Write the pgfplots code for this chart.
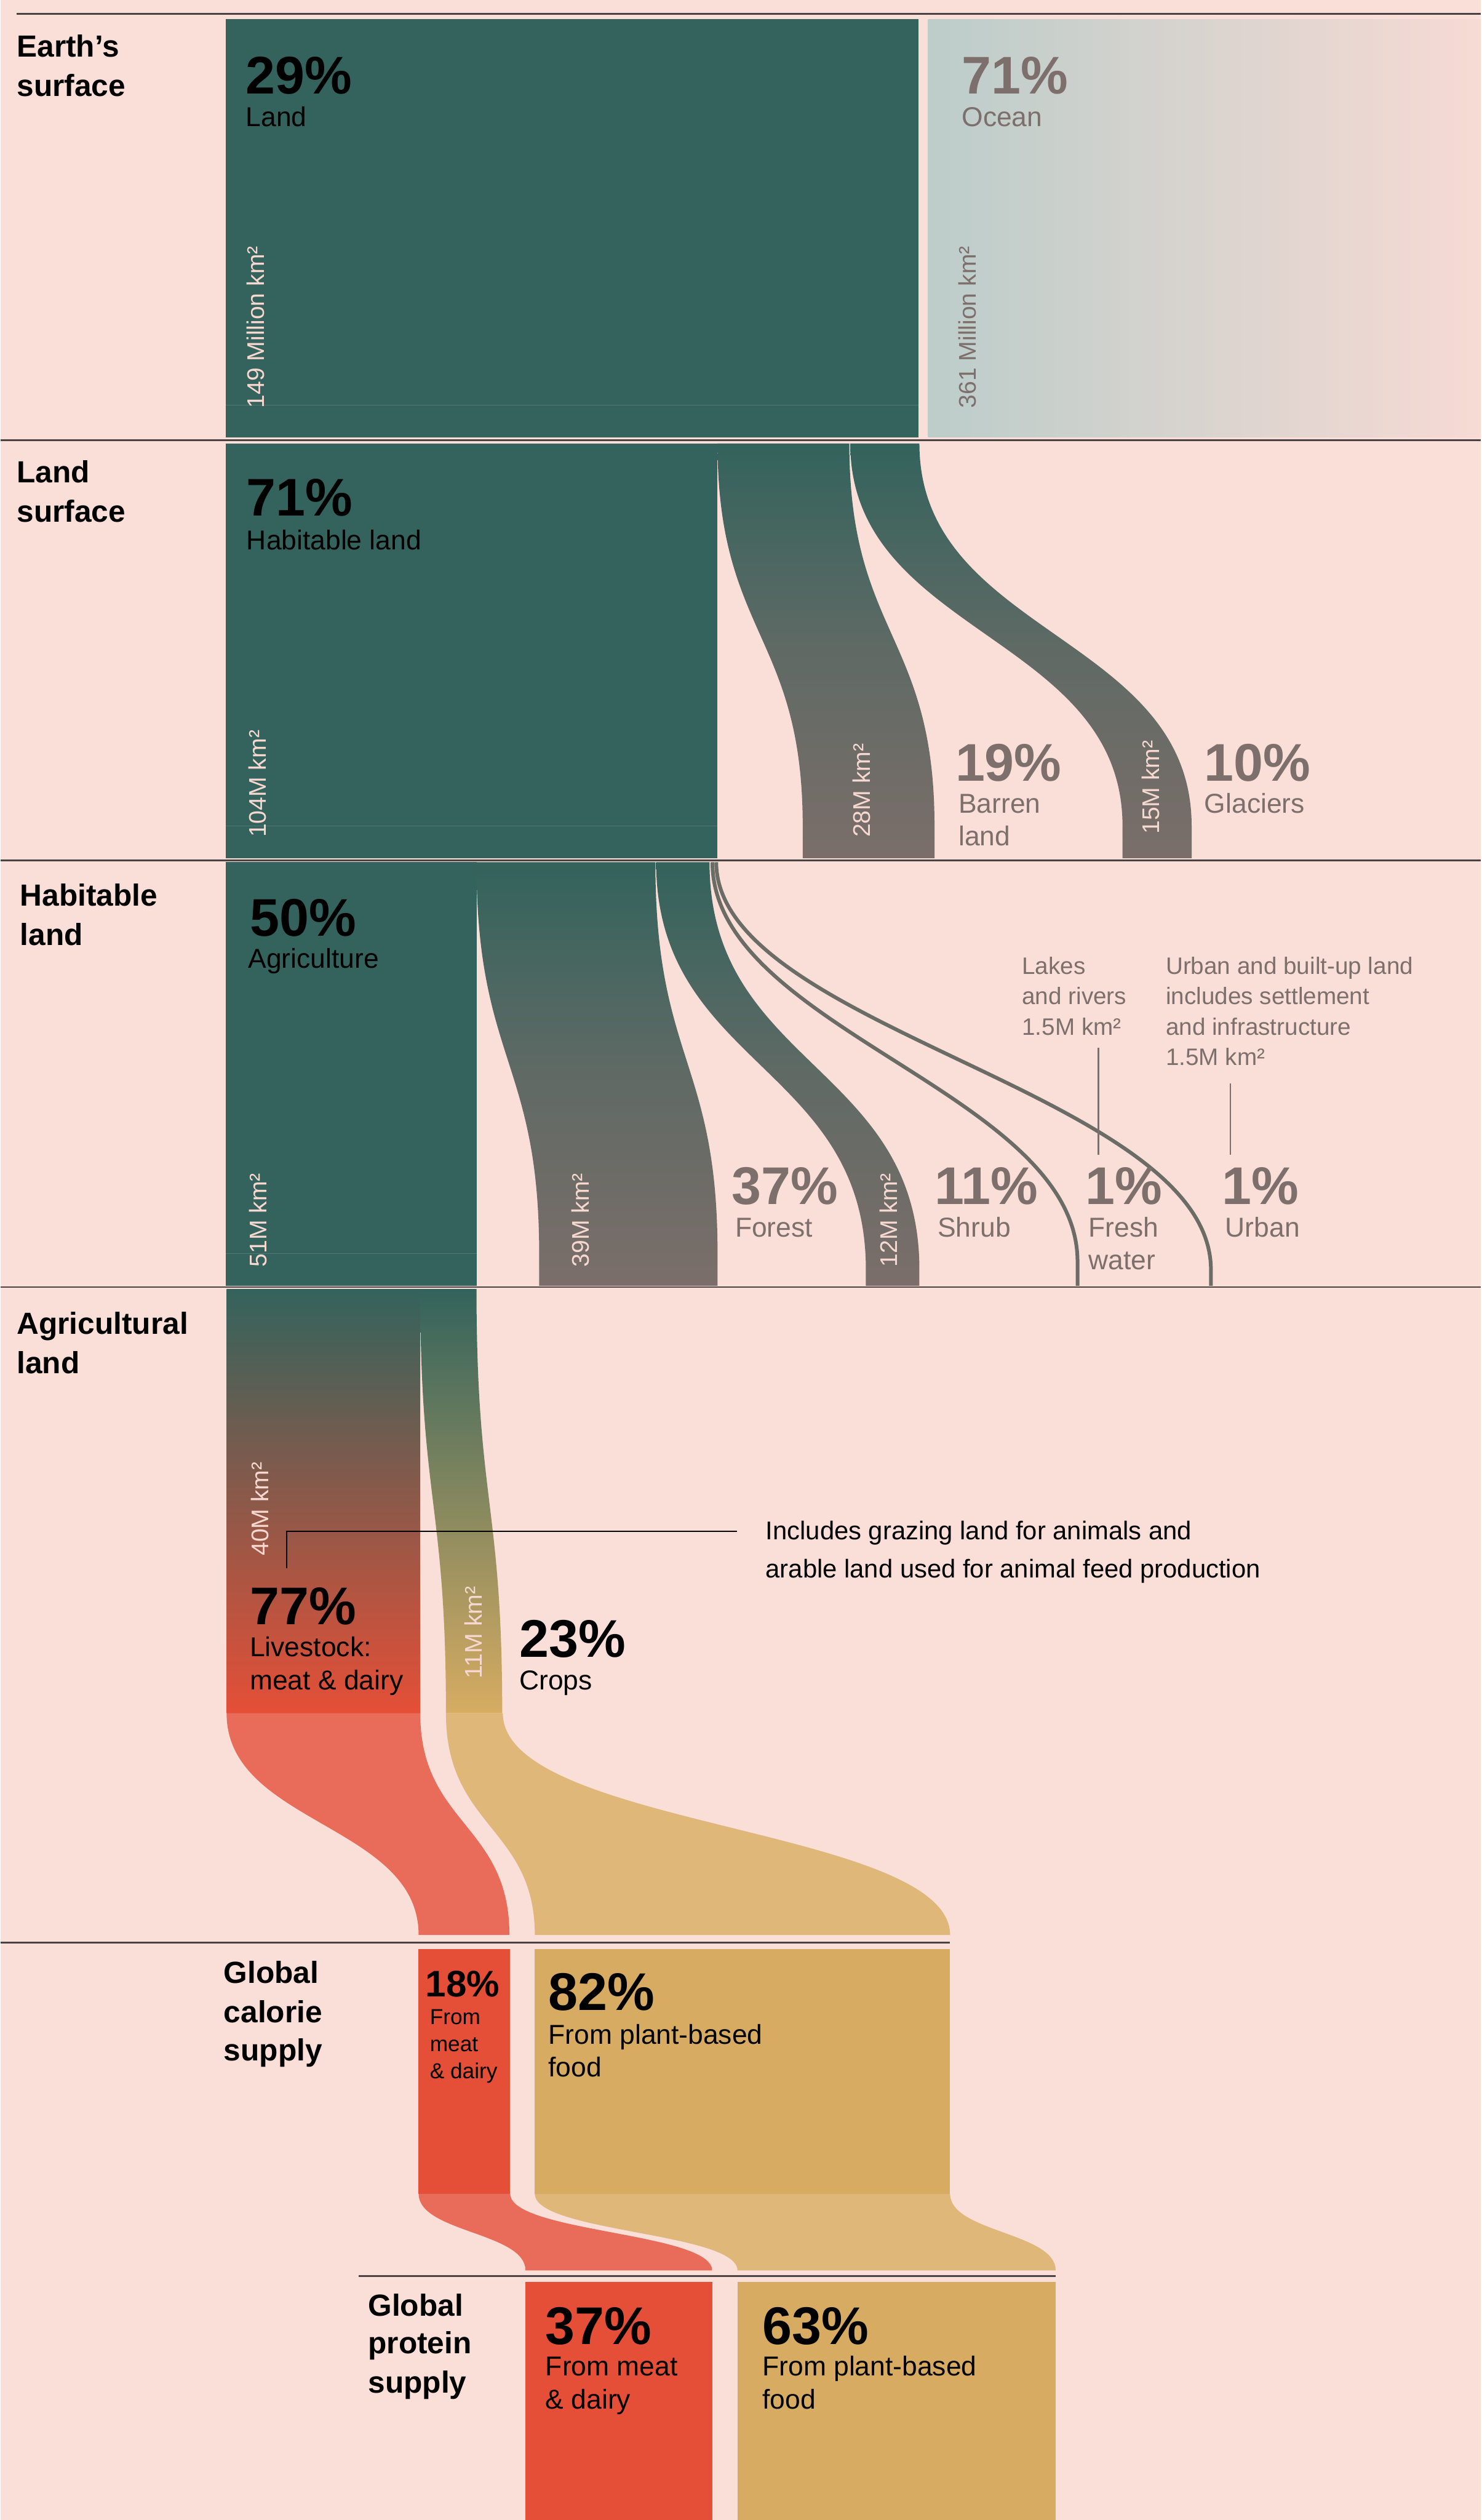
\documentclass[border=0pt]{standalone}
\usepackage{pgfplots}
\pgfplotsset{compat=1.18}
\usepackage{fontspec}
\setmainfont{Liberation Sans}

\definecolor{bg}{HTML}{FADED8}
\definecolor{dgreen}{HTML}{33635C}
\definecolor{taupe}{HTML}{7B6E6A}
\definecolor{red1}{HTML}{E54F37}
\definecolor{red2}{HTML}{E96B59}
\definecolor{gold1}{HTML}{D7AC62}
\definecolor{gold2}{HTML}{DEB779}
\definecolor{oceanL}{HTML}{BCCDCA}
\definecolor{oceanR}{HTML}{F7DAD4}
\definecolor{linec}{HTML}{4A4242}
\definecolor{lbl}{HTML}{F6D8D1}
\definecolor{gtext}{HTML}{7D6F6B}
\definecolor{faint}{HTML}{4E7A73}
\definecolor{thinl}{HTML}{6C6C67}

\newcommand\fsec{\fontsize{19}{22}\selectfont\bfseries}
\newcommand\fpct{\fontsize{33}{36}\selectfont\bfseries}
\newcommand\fpcts{\fontsize{23}{26}\selectfont\bfseries}
\newcommand\fsub{\fontsize{17}{20}\selectfont}
\newcommand\fsubs{\fontsize{13.5}{16}\selectfont}
\newcommand\frot{\fontsize{15}{18}\selectfont}
\newcommand\fann{\fontsize{14.8}{18}\selectfont}
\newcommand\fannb{\fontsize{16}{19}\selectfont}

\tikzset{
  flowshade/.style={draw=none, top color=dgreen, bottom color=taupe, middle color=taupe!62!dgreen},
  cropshade/.style={draw=none, top color=dgreen, bottom color=gold1},
}

% #1 opts, #2 x0l, #3 x0r, #4 y0, #5 x1l, #6 x1r, #7 control y, #8 end of curve, #9 bottom
\newcommand{\flow}[9]{\path[#1] (axis cs:#2,#4) .. controls (axis cs:#2,#7) and (axis cs:#5,#7) .. (axis cs:#5,#8) -- (axis cs:#5,#9) -- (axis cs:#6,#9) -- (axis cs:#6,#8) .. controls (axis cs:#6,#7) and (axis cs:#3,#7) .. (axis cs:#3,#4) -- cycle;}

\begin{document}
\begin{tikzpicture}[every node/.append style={inner sep=0pt, outer sep=0pt}]
\begin{axis}[width=921pt, height=1568pt, scale only axis,
  xmin=0, xmax=921, ymin=0, ymax=1568, y dir=reverse,
  hide axis, clip=false]

% background
\addplot[fill=bg, draw=none] coordinates {(0,0)(921,0)(921,1568)(0,1568)} -- cycle;

% ---- Section 1: Earth's surface
\addplot[fill=dgreen, draw=none] coordinates {(140,12)(571,12)(571,272)(140,272)} -- cycle;
\addplot[draw=none, left color=oceanL, right color=oceanR] coordinates {(577,12)(921,12)(921,272)(577,272)} -- cycle;
\addplot[faint, line width=0.6pt] coordinates {(140,252)(571,252)};

% ---- Section 2: Land surface
\addplot[fill=dgreen, draw=none] coordinates {(140,276)(446,276)(446,534)(140,534)} -- cycle;
\addplot[faint, line width=0.6pt] coordinates {(140,514)(446,514)};
\flow{flowshade}{446}{528}{276}{499}{581}{395}{514}{534}
\flow{flowshade}{528.6}{571.6}{276}{698}{741}{395}{514}{534}

% ---- Section 3: Habitable land
\addplot[fill=dgreen, draw=none] coordinates {(140,536.5)(296,536.5)(296,800)(140,800)} -- cycle;
\addplot[faint, line width=0.6pt] coordinates {(140,780)(296,780)};
\flow{flowshade}{296}{407.3}{536.5}{335}{446}{660}{780}{800}
\flow{flowshade}{407.8}{441}{536.5}{538.3}{571.6}{663}{790}{800}
\draw[thinl, line width=2.3pt] (axis cs:442.8,536.5) .. controls (axis cs:442.8,640) and (axis cs:670,680) .. (axis cs:670,785) -- (axis cs:670,800);
\draw[thinl, line width=2.3pt] (axis cs:445.2,536.5) .. controls (axis cs:445.2,640) and (axis cs:753,680) .. (axis cs:753,790) -- (axis cs:753,800);
\addplot[gtext, line width=0.8pt] coordinates {(683,652)(683,718.7)};
\addplot[gtext, line width=0.8pt] coordinates {(765,674)(765,718.7)};

% ---- Section 4: Agricultural land
\addplot[draw=none, top color=dgreen, bottom color=red1] coordinates {(140.5,802)(261,802)(261,1066)(140.5,1066)} -- cycle;
\flow{cropshade}{261}{296}{802}{277}{312}{935}{1066}{1066}
\flow{fill=red2, draw=none}{140.5}{261}{1066}{260}{316.5}{1135}{1204}{1204}
\flow{fill=gold2, draw=none}{277}{312.4}{1066}{332.3}{590.7}{1137}{1204}{1204}
\addplot[black, line width=0.9pt] coordinates {(178,975.6)(178,952.8)(458,952.8)};

% ---- Section 5: Global calorie supply
\addplot[fill=red1, draw=none] coordinates {(260,1212.7)(317,1212.7)(317,1365)(260,1365)} -- cycle;
\addplot[fill=gold1, draw=none] coordinates {(332.3,1212.7)(590.7,1212.7)(590.7,1365)(332.3,1365)} -- cycle;
\flow{fill=red2, draw=none}{260}{317}{1365}{326.5}{442.6}{1389}{1412.7}{1412.7}
\flow{fill=gold2, draw=none}{332.3}{590.7}{1365}{458.4}{656.4}{1389}{1412.7}{1412.7}

% ---- Section 6: Global protein supply
\addplot[fill=red1, draw=none] coordinates {(326.5,1420)(442.6,1420)(442.6,1568)(326.5,1568)} -- cycle;
\addplot[fill=gold1, draw=none] coordinates {(458.4,1420)(656.4,1420)(656.4,1568)(458.4,1568)} -- cycle;

% ---- dividers
\addplot[linec, line width=1pt] coordinates {(10,8.5)(921,8.5)};
\addplot[linec, line width=1pt] coordinates {(0,273.8)(921,273.8)};
\addplot[linec, line width=1pt] coordinates {(0,535.3)(921,535.3)};
\addplot[linec, line width=1pt] coordinates {(0,800.8)(921,800.8)};
\addplot[linec, line width=1pt] coordinates {(0,1208.6)(590.7,1208.6)};
\addplot[linec, line width=1pt] coordinates {(222.8,1416.2)(656.4,1416.2)};

% ---- texts section 1
\node[anchor=base west, font=\fsec] at (axis cs:10,35.4) {Earth’s};
\node[anchor=base west, font=\fsec] at (axis cs:10,60) {surface};
\node[anchor=base west, font=\fpct] at (axis cs:152.5,58.5) {29\%};
\node[anchor=base west, font=\fsub] at (axis cs:152.5,78.5) {Land};
\node[anchor=base west, font=\frot, rotate=90, text=lbl] at (axis cs:164,254) {149 Million km²};
\node[anchor=base west, font=\fpct, text=gtext] at (axis cs:598,58.5) {71\%};
\node[anchor=base west, font=\fsub, text=gtext] at (axis cs:598,78.5) {Ocean};
\node[anchor=base west, font=\frot, rotate=90, text=gtext] at (axis cs:607,254) {361 Million km²};

% ---- texts section 2
\node[anchor=base west, font=\fsec] at (axis cs:10,300.5) {Land};
\node[anchor=base west, font=\fsec] at (axis cs:10,325) {surface};
\node[anchor=base west, font=\fpct] at (axis cs:153,321) {71\%};
\node[anchor=base west, font=\fsub] at (axis cs:153,342) {Habitable land};
\node[anchor=base west, font=\frot, rotate=90, text=lbl] at (axis cs:165,521) {104M km²};
\node[anchor=base west, font=\frot, rotate=90, text=lbl] at (axis cs:541,521) {28M km²};
\node[anchor=base west, font=\fpct, text=gtext] at (axis cs:594,486) {19\%};
\node[anchor=base west, font=\fsub, text=gtext] at (axis cs:596,506) {Barren};
\node[anchor=base west, font=\fsub, text=gtext] at (axis cs:596,526) {land};
\node[anchor=base west, font=\frot, rotate=90, text=lbl] at (axis cs:721,519) {15M km²};
\node[anchor=base west, font=\fpct, text=gtext] at (axis cs:749,486) {10\%};
\node[anchor=base west, font=\fsub, text=gtext] at (axis cs:749,506) {Glaciers};

% ---- texts section 3
\node[anchor=base west, font=\fsec] at (axis cs:12,563.8) {Habitable};
\node[anchor=base west, font=\fsec] at (axis cs:12,588) {land};
\node[anchor=base west, font=\fpct] at (axis cs:155,582.4) {50\%};
\node[anchor=base west, font=\fsub] at (axis cs:154,602.5) {Agriculture};
\node[anchor=base west, font=\frot, rotate=90, text=lbl] at (axis cs:165.5,788.4) {51M km²};
\node[anchor=base west, font=\frot, rotate=90, text=lbl] at (axis cs:366,788.4) {39M km²};
\node[anchor=base west, font=\fpct, text=gtext] at (axis cs:455,749.5) {37\%};
\node[anchor=base west, font=\fsub, text=gtext] at (axis cs:457,769.8) {Forest};
\node[anchor=base west, font=\frot, rotate=90, text=lbl] at (axis cs:557.8,788.4) {12M km²};
\node[anchor=base west, font=\fpct, text=gtext] at (axis cs:581.2,749.5) {11\%};
\node[anchor=base west, font=\fsub, text=gtext] at (axis cs:583,769.8) {Shrub};
\node[anchor=base west, font=\fpct, text=gtext] at (axis cs:675,749.5) {1\%};
\node[anchor=base west, font=\fsub, text=gtext] at (axis cs:677,769.8) {Fresh};
\node[anchor=base west, font=\fsub, text=gtext] at (axis cs:677,790) {water};
\node[anchor=base west, font=\fpct, text=gtext] at (axis cs:760,749.5) {1\%};
\node[anchor=base west, font=\fsub, text=gtext] at (axis cs:762,769.8) {Urban};
\node[anchor=base west, font=\fann, text=gtext] at (axis cs:635.5,606) {Lakes};
\node[anchor=base west, font=\fann, text=gtext] at (axis cs:635.5,625) {and rivers};
\node[anchor=base west, font=\fann, text=gtext] at (axis cs:635.5,644) {1.5M km²};
\node[anchor=base west, font=\fann, text=gtext] at (axis cs:725,606) {Urban and built-up land};
\node[anchor=base west, font=\fann, text=gtext] at (axis cs:725,625) {includes settlement};
\node[anchor=base west, font=\fann, text=gtext] at (axis cs:725,644) {and infrastructure};
\node[anchor=base west, font=\fann, text=gtext] at (axis cs:725,662.7) {1.5M km²};

% ---- texts section 4
\node[anchor=base west, font=\fsec] at (axis cs:10,830) {Agricultural};
\node[anchor=base west, font=\fsec] at (axis cs:10,854.5) {land};
\node[anchor=base west, font=\frot, rotate=90, text=lbl] at (axis cs:166.5,968) {40M km²};
\node[anchor=base west, font=\fannb] at (axis cs:476,958) {Includes grazing land for animals and};
\node[anchor=base west, font=\fannb] at (axis cs:476,981.6) {arable land used for animal feed production};
\node[anchor=base west, font=\fpct] at (axis cs:155,1010.7) {77\%};
\node[anchor=base west, font=\fsub] at (axis cs:155,1030.6) {Livestock:};
\node[anchor=base west, font=\fsub] at (axis cs:155,1051.4) {meat \& dairy};
\node[anchor=base west, font=\frot, rotate=90, text=lbl] at (axis cs:299.5,1044.3) {11M km²};
\node[anchor=base west, font=\fpct] at (axis cs:322.7,1031) {23\%};
\node[anchor=base west, font=\fsub] at (axis cs:322.7,1051.5) {Crops};

% ---- texts section 5
\node[anchor=base west, font=\fsec] at (axis cs:138.8,1233.8) {Global};
\node[anchor=base west, font=\fsec] at (axis cs:138.8,1258.4) {calorie};
\node[anchor=base west, font=\fsec] at (axis cs:138.8,1282.2) {supply};
\node[anchor=base west, font=\fpcts] at (axis cs:264.4,1242.4) {18\%};
\node[anchor=base west, font=\fsubs] at (axis cs:267,1259.7) {From};
\node[anchor=base west, font=\fsubs] at (axis cs:267,1276.5) {meat};
\node[anchor=base west, font=\fsubs] at (axis cs:267,1293.2) {\& dairy};
\node[anchor=base west, font=\fpct] at (axis cs:340.8,1251) {82\%};
\node[anchor=base west, font=\fsub] at (axis cs:340.8,1272) {From plant-based};
\node[anchor=base west, font=\fsub] at (axis cs:340.8,1292.2) {food};

% ---- texts section 6
\node[anchor=base west, font=\fsec] at (axis cs:228.6,1440.9) {Global};
\node[anchor=base west, font=\fsec] at (axis cs:228.6,1464.6) {protein};
\node[anchor=base west, font=\fsec] at (axis cs:228.6,1489) {supply};
\node[anchor=base west, font=\fpct] at (axis cs:339,1458.6) {37\%};
\node[anchor=base west, font=\fsub] at (axis cs:339,1478.3) {From meat};
\node[anchor=base west, font=\fsub] at (axis cs:339,1499) {\& dairy};
\node[anchor=base west, font=\fpct] at (axis cs:474,1458.6) {63\%};
\node[anchor=base west, font=\fsub] at (axis cs:474,1478.3) {From plant-based};
\node[anchor=base west, font=\fsub] at (axis cs:474,1499) {food};

\end{axis}
\end{tikzpicture}
\end{document}
